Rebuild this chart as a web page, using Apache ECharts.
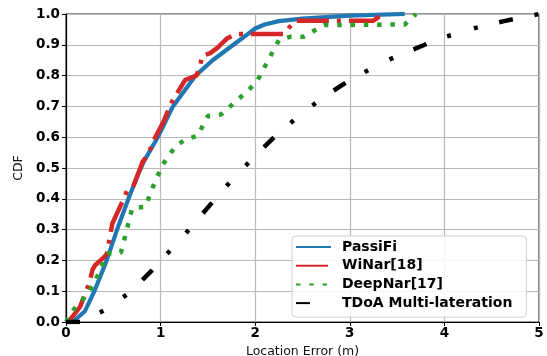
<!DOCTYPE html>
<html>
<head>
<meta charset="utf-8">
<script src="https://cdn.jsdelivr.net/npm/echarts@6/dist/echarts.min.js"></script>
<style>
html,body{margin:0;padding:0;background:#fff;}
#c{width:547px;height:356px;}
</style>
</head>
<body>
<div id="c"></div>
<script>
var seriesNames = ['PassiFi', 'WiNar[18]', 'DeepNar[17]', 'TDoA Multi-lateration'];
var xTicks = [0, 1, 2, 3, 4, 5];
var yTicks = [0.0, 0.1, 0.2, 0.3, 0.4, 0.5, 0.6, 0.7, 0.8, 0.9, 1.0];

var passifi = [[0,0],[0.1,0.008],[0.2,0.035],[0.3,0.1],[0.43,0.2],[0.54,0.3],[0.66,0.4],[0.75,0.47],[0.82,0.52],[0.97,0.6],[1.13,0.7],[1.37,0.8],[1.55,0.85],[1.77,0.9],[1.9,0.93],[2.0,0.953],[2.1,0.966],[2.25,0.977],[2.5,0.985],[3.0,0.995],[3.58,1.0]];

var winar = [[0,0],[0.05,0.01],[0.1,0.03],[0.15,0.05],[0.25,0.13],[0.28,0.17],[0.31,0.185],[0.4,0.21],[0.43,0.22],[0.46,0.27],[0.49,0.32],[0.61,0.40],[0.65,0.43],[0.71,0.44],[0.73,0.445],[0.81,0.52],[0.88,0.55],[0.91,0.58],[1.03,0.65],[1.07,0.68],[1.12,0.715],[1.26,0.786],[1.38,0.80],[1.42,0.835],[1.44,0.865],[1.52,0.872],[1.6,0.89],[1.7,0.92],[1.8,0.935],[2.3,0.935],[2.42,0.978],[3.25,0.978],[3.35,1.0]];

var deepnar = [[0,0],[0.08,0.04],[0.17,0.07],[0.25,0.10],[0.31,0.134],[0.39,0.19],[0.45,0.223],[0.58,0.225],[0.61,0.26],[0.70,0.37],[0.84,0.374],[0.92,0.44],[1.02,0.51],[1.16,0.572],[1.27,0.594],[1.39,0.604],[1.50,0.669],[1.64,0.674],[1.93,0.753],[2.02,0.782],[2.25,0.915],[2.37,0.926],[2.51,0.926],[2.73,0.964],[3.58,0.966],[3.7,1.0]];

var tdoa = [[0,0],[0.15,0],[0.42,0.04],[0.67,0.095],[0.9,0.165],[1.14,0.245],[1.33,0.31],[1.55,0.39],[1.78,0.47],[1.98,0.533],[2.2,0.6],[2.48,0.674],[2.72,0.73],[3.0,0.785],[3.34,0.842],[3.63,0.88],[3.95,0.92],[4.32,0.954],[4.63,0.977],[5.0,1.0]];

var chart = echarts.init(document.getElementById('c'), null, {renderer: 'canvas'});
var tickFont = {fontFamily: 'DejaVu Sans', fontWeight: 'bold', fontSize: 13.5, color: '#000'};
chart.setOption({
  animation: false,
  backgroundColor: '#fff',
  grid: {left: 66, right: 8, top: 14, bottom: 34, show: true, borderColor: '#333', borderWidth: 1.2,
         backgroundColor: 'transparent', containLabel: false, outerBoundsMode: 'none'},
  xAxis: {
    type: 'value', min: xTicks[0], max: xTicks[xTicks.length-1], interval: 1,
    name: 'Location Error (m)', nameLocation: 'middle', nameGap: 16,
    nameTextStyle: {fontFamily: 'DejaVu Sans', fontSize: 12.5, color: '#111'},
    axisLine: {show: true, lineStyle: {color: '#000', width: 1.2}},
    axisTick: {show: true, length: 4, lineStyle: {color: '#000'}},
    axisLabel: Object.assign({margin: 4, formatter: function(v){return String(v);}}, tickFont),
    splitLine: {show: true, lineStyle: {color: '#b8b8b8', width: 1.2}}
  },
  yAxis: {
    type: 'value', min: yTicks[0], max: yTicks[yTicks.length-1], interval: 0.1,
    name: 'CDF', nameLocation: 'middle', nameGap: 31,
    nameTextStyle: {fontFamily: 'DejaVu Sans', fontSize: 12.5, color: '#111'},
    axisLine: {show: true, lineStyle: {color: '#000', width: 1.2}},
    axisTick: {show: true, length: 4, lineStyle: {color: '#000'}},
    axisLabel: Object.assign({margin: 6, formatter: function(v){return v.toFixed(1);}}, tickFont),
    splitLine: {show: true, lineStyle: {color: '#b8b8b8', width: 1.2}}
  },
  legend: {
    orient: 'vertical', left: 292, top: 236,
    padding: [4, 14, 7, 3], itemGap: 4.7, itemWidth: 35, itemHeight: 14,
    itemStyle: {opacity: 0},
    backgroundColor: 'rgba(255,255,255,0.85)', borderColor: '#d0d0d0', borderWidth: 1, borderRadius: 4,
    textStyle: {fontFamily: 'DejaVu Sans', fontWeight: 'bold', fontSize: 14, color: '#000', padding: [0,0,0,6]},
    data: seriesNames
  },
  series: [
    {name: seriesNames[0], type: 'line', data: passifi, symbol: 'none', showSymbol: false,
     lineStyle: {color: '#1f77b4', width: 4.2}, itemStyle: {color: '#1f77b4'}},
    {name: seriesNames[1], type: 'line', data: winar, symbol: 'none', showSymbol: false,
     lineStyle: {color: '#d62728', width: 4.5, type: [32, 8, 4, 8], cap: 'butt'}, itemStyle: {color: '#d62728'}},
    {name: seriesNames[2], type: 'line', data: deepnar, symbol: 'none', showSymbol: false,
     lineStyle: {color: '#2ca02c', width: 4.5, type: [4.5, 8.8], cap: 'butt'}, itemStyle: {color: '#2ca02c'}},
    {name: seriesNames[3], type: 'line', data: tdoa, symbol: 'none', showSymbol: false,
     lineStyle: {color: '#000', width: 4.5, type: [14, 22, 4, 24, 4, 22], cap: 'butt'}, itemStyle: {color: '#000'}}
  ]
});
</script>
</body>
</html>
